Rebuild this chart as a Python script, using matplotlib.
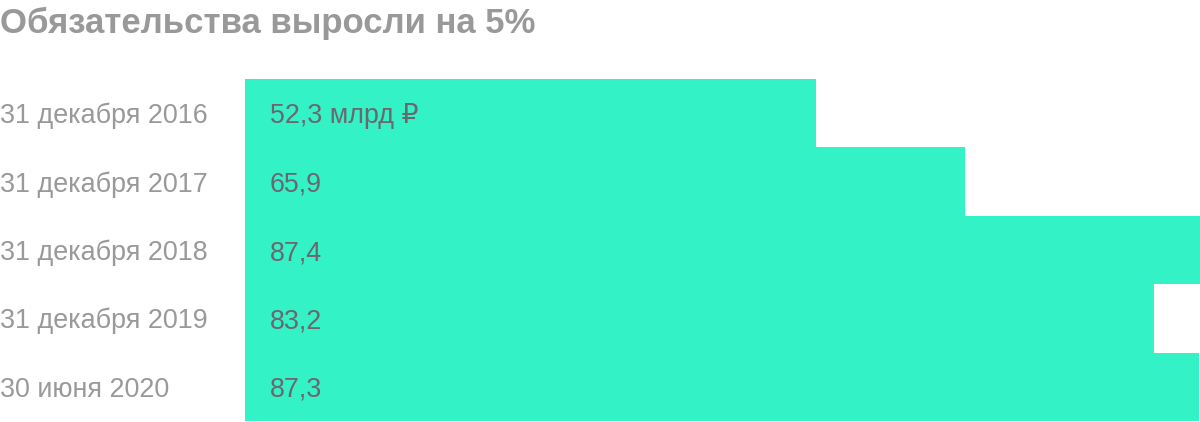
import matplotlib
matplotlib.use("Agg")
import matplotlib.pyplot as plt

title = "Обязательства выросли на 5%"
dates = ["31 декабря 2016", "31 декабря 2017", "31 декабря 2018",
         "31 декабря 2019", "30 июня 2020"]
values = [52.3, 65.9, 87.4, 83.2, 87.3]
value_labels = ["52,3 млрд ₽", "65,9", "87,4", "83,2", "87,3"]

fam = ["Liberation Sans", "DejaVu Sans"]
bar_color = "#33f3c6"

fig = plt.figure(figsize=(12, 4.22), dpi=100)
ax = fig.add_axes([245 / 1200, 1 / 422, 955 / 1200, 342 / 422])

y = list(range(len(values)))
ax.barh(y, values, height=1.0, color=bar_color, linewidth=0)
ax.set_xlim(0, max(values))
ax.set_ylim(len(values) - 0.5, -0.5)
ax.axis("off")

# baseline sits ~10 px below the row centre
for i, (d, lab) in enumerate(zip(dates, value_labels)):
    ax.annotate(d, xy=(0, i), xycoords=("axes fraction", "data"),
                xytext=(-245, -10), textcoords="offset pixels",
                ha="left", va="baseline", fontsize=19.4, color="#999999", family=fam)
    ax.annotate(lab, xy=(0, i), xycoords=("axes fraction", "data"),
                xytext=(25, -10), textcoords="offset pixels",
                ha="left", va="baseline", fontsize=19.4, color="#6b6770", family=fam)

fig.text(0, 1 - 33 / 422, title, ha="left", va="baseline", fontsize=25,
         fontweight="bold", color="#999999", family=fam)

fig.savefig("out.png", dpi=100)
